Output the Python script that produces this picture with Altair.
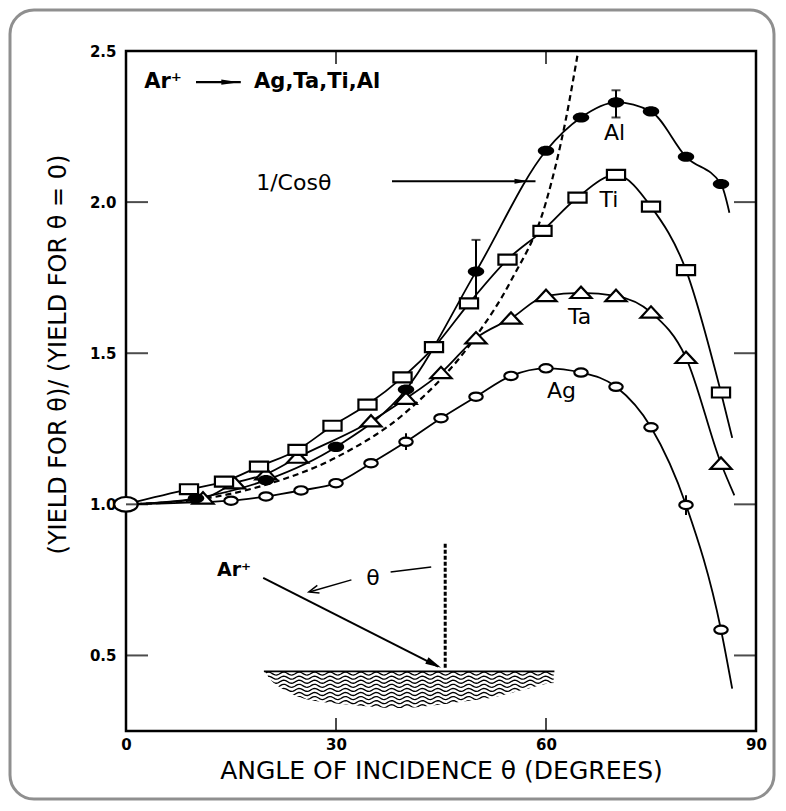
import altair as alt
import numpy as np
import pandas as pd

# ---------------- values ----------------
x_domain = [0, 90]
y_domain = [0.25, 2.5]
x_tick_labels = [0, 30, 60, 90]
y_tick_labels = [0.5, 1.0, 1.5, 2.0, 2.5]
inner_x_ticks = [30, 60]
inner_y_ticks = [0.5, 1.0, 1.5, 2.0]

origin_angle = [0]
origin_yield = [1.0]

al_angle = [10, 20, 30, 40, 50, 60, 65, 70, 75, 80, 85]
al_yield = [1.02, 1.08, 1.19, 1.38, 1.77, 2.17, 2.28, 2.33, 2.30, 2.15, 2.06]
al_tail = [86.2, 1.965]

ti_angle = [9, 14, 19, 24.5, 29.5, 34.5, 39.5, 44, 49, 54.5, 59.5, 64.5, 70, 75, 80, 85]
ti_yield = [1.05, 1.075, 1.125, 1.18, 1.26, 1.33, 1.42, 1.52, 1.665, 1.81, 1.905, 2.015, 2.09, 1.985, 1.775, 1.37]
ti_tail = [86.6, 1.22]

ta_angle = [11, 15.5, 20, 24.5, 35, 40, 45, 50, 55, 60, 65, 70, 75, 80, 85]
ta_yield = [1.02, 1.07, 1.10, 1.155, 1.275, 1.35, 1.435, 1.55, 1.615, 1.69, 1.70, 1.69, 1.635, 1.485, 1.135]
ta_tail = [86.9, 1.03]

ag_angle = [15, 20, 25, 30, 35, 40, 45, 50, 55, 60, 65, 70, 75, 80, 85]
ag_yield = [1.012, 1.026, 1.046, 1.07, 1.136, 1.207, 1.285, 1.356, 1.425, 1.45, 1.436, 1.389, 1.255, 0.998, 0.585]
ag_tail = [86.6, 0.39]

cos_angle = [0, 10, 20, 30, 40, 50, 55, 60, 62.8, 64.6]
cos_value = [1.0, 1.015, 1.065, 1.155, 1.305, 1.556, 1.74, 2.0, 2.27, 2.5]

err_angle = [50, 70, 40, 80]
err_low = [1.68, 2.28, 1.18, 0.965]
err_high = [1.875, 2.37, 1.235, 1.03]
cap_angle = [50, 70, 70]
cap_value = [1.875, 2.37, 2.28]

series_labels = ["Al", "Ti", "Ta", "Ag"]
series_label_x = [69.8, 69.0, 64.8, 62.2]
series_label_y = [2.228, 2.006, 1.62, 1.375]

# annotation: "Ar+ -> Ag,Ta,Ti,Al"
top_text = ["Ar⁺", "Ag,Ta,Ti,Al"]
top_text_x = [2.6, 18.3]
top_text_y = [2.397, 2.397]
top_arrow_x = [10.0, 16.4]
top_arrow_y = 2.397
top_head_x = 14.9

# annotation: "1/Cosθ" with arrow
cos_label = "1/Cosθ"
cos_label_x = 18.6
cos_label_y = 2.063
cos_arrow_x = [38.0, 58.5]
cos_arrow_y = 2.069
cos_head_x = 56.5

# inset diagram
inset_ion_text = "Ar⁺"
inset_ion_x = 13.0
inset_ion_y = 0.783
inset_beam_x = [19.6, 44.6]
inset_beam_y = [0.757, 0.463]
inset_beam_head = [44.0, 0.471]
inset_normal_x = 45.6
inset_normal_y = [0.459, 0.876]
inset_theta_text = "θ"
inset_theta_x = 35.3
inset_theta_y = 0.757
inset_theta_line_x = [37.8, 43.6]
inset_theta_line_y = [0.776, 0.793]
inset_theta_arrow_x = [32.2, 26.3]
inset_theta_arrow_y = [0.750, 0.711]
inset_theta_head = [26.8, 0.7145]
surf_x = [19.7, 20.6, 22.5, 24.4, 28.3, 31.6, 38.7, 48.3, 52.1, 56.9, 61.2]
surf_bottom = [0.447, 0.420, 0.387, 0.365, 0.345, 0.338, 0.326, 0.348, 0.359, 0.387, 0.409]
surf_top = 0.447
surf_mask_floor = 0.31

X_TITLE = "ANGLE OF INCIDENCE θ (DEGREES)"
Y_TITLE = "(YIELD FOR θ)/ (YIELD FOR θ = 0)"
FONT = "DejaVu Sans"

# ---------------- tables ----------------
def curve(name, angles, values, tail):
    return pd.DataFrame({
        "series": name,
        "angle": origin_angle + list(angles) + [tail[0]],
        "value": origin_yield + list(values) + [tail[1]],
    })

curves = pd.concat([
    curve("Al", al_angle, al_yield, al_tail),
    curve("Ti", ti_angle, ti_yield, ti_tail),
    curve("Ta", ta_angle, ta_yield, ta_tail),
    curve("Ag", ag_angle, ag_yield, ag_tail),
], ignore_index=True)

al_df = pd.DataFrame({"angle": al_angle, "value": al_yield})
ti_df = pd.DataFrame({"angle": ti_angle, "value": ti_yield})
ta_df = pd.DataFrame({"angle": ta_angle, "value": ta_yield})
ag_df = pd.DataFrame({"angle": ag_angle, "value": ag_yield})
origin_df = pd.DataFrame({"angle": origin_angle, "value": origin_yield})
cos_df = pd.DataFrame({"angle": cos_angle, "value": cos_value})
err_df = pd.DataFrame({"angle": err_angle, "lo": err_low, "hi": err_high})
cap_df = pd.DataFrame({"angle": cap_angle, "value": cap_value})
lab_df = pd.DataFrame({"t": series_labels, "angle": series_label_x, "value": series_label_y})

# decorative wavy texture of the target surface (drawing, not data)
wave_x = np.arange(surf_x[0], surf_x[-1] + 0.001, 0.2)
wave_rows = []
for i, lvl in enumerate(np.arange(surf_top - 0.007, min(surf_bottom) - 0.004, -0.0135)):
    wave_rows.append(pd.DataFrame({"row": i, "angle": wave_x,
                                   "value": lvl + 0.005 * np.sin(2 * np.pi * wave_x / 2.2)}))
waves_df = pd.concat(wave_rows, ignore_index=True)
mask_df = pd.DataFrame({"angle": [surf_x[0] - 0.6] + surf_x + [surf_x[-1] + 0.6],
                        "value": [surf_top] + surf_bottom + [surf_bottom[-1]],
                        "floor": surf_mask_floor})

# ---------------- scales / axes ----------------
xs = alt.Scale(domain=x_domain, nice=False, zero=False)
ys = alt.Scale(domain=y_domain, nice=False, zero=False)
x_axis = alt.Axis(values=x_tick_labels, format="d", domain=False, ticks=False, grid=False,
                  labelFont=FONT, labelFontSize=15, labelFontWeight="bold", labelColor="black",
                  labelPadding=6, labelFlush=False, labelOverlap=False,
                  titleFont=FONT, titleFontSize=25, titleFontWeight="normal", titleColor="black",
                  titlePadding=6)
y_axis = alt.Axis(values=y_tick_labels, format=".1f", domain=False, ticks=False, grid=False,
                  labelFont=FONT, labelFontSize=15, labelFontWeight="bold", labelColor="black",
                  labelPadding=10, labelFlush=False, labelOverlap=False,
                  titleFont=FONT, titleFontSize=24, titleFontWeight="normal", titleColor="black",
                  titleX=-68, titleY=303, titleAngle=270, titleAlign="center", titleBaseline="middle")


def X(f):
    return alt.X(f"{f}:Q", scale=xs, axis=x_axis, title=X_TITLE)


def Y(f):
    return alt.Y(f"{f}:Q", scale=ys, axis=y_axis, title=Y_TITLE)


one = pd.DataFrame({"k": [0]})

# photo frame
frame = alt.Chart(one).mark_rect(cornerRadius=24, fill="white", fillOpacity=0,
                                 stroke="#8f8f8f", strokeWidth=3).encode(
    x=alt.value(-116), x2=alt.value(648), y=alt.value(-41), y2=alt.value(748))

# inset target surface
waves = alt.Chart(waves_df).mark_line(color="black", strokeWidth=1.3).encode(
    x=X("angle"), y=Y("value"), detail="row:N")
mask = alt.Chart(mask_df).mark_area(color="white", interpolate="monotone").encode(
    x=X("angle"), y=Y("value"), y2="floor:Q")
surf_line = alt.Chart(pd.DataFrame({"a": [surf_x[0]], "b": [surf_x[-1]], "v": [surf_top]})).mark_rule(
    color="black", strokeWidth=1.8).encode(x=X("a"), x2="b:Q", y=Y("v"))

beam = alt.Chart(pd.DataFrame({"a": [inset_beam_x[0]], "b": [inset_beam_x[1]],
                               "v": [inset_beam_y[0]], "w": [inset_beam_y[1]]})).mark_rule(
    color="black", strokeWidth=2).encode(x=X("a"), x2="b:Q", y=Y("v"), y2="w:Q")
beam_head = alt.Chart(pd.DataFrame({"a": [inset_beam_head[0]], "v": [inset_beam_head[1]]})).mark_point(
    shape="M-1,-0.45L1,0L-1,0.45Z", filled=True, color="black", size=256, angle=27, opacity=1).encode(
    x=X("a"), y=Y("v"))
normal = alt.Chart(pd.DataFrame({"a": [inset_normal_x], "v": [inset_normal_y[0]], "w": [inset_normal_y[1]]})).mark_rule(
    color="black", strokeWidth=3, strokeDash=[4, 2]).encode(x=X("a"), y=Y("v"), y2="w:Q")
theta_line = alt.Chart(pd.DataFrame({"a": [inset_theta_line_x[0]], "b": [inset_theta_line_x[1]],
                                     "v": [inset_theta_line_y[0]], "w": [inset_theta_line_y[1]]})).mark_rule(
    color="black", strokeWidth=1.5).encode(x=X("a"), x2="b:Q", y=Y("v"), y2="w:Q")
theta_arrow = alt.Chart(pd.DataFrame({"a": [inset_theta_arrow_x[0]], "b": [inset_theta_arrow_x[1]],
                                      "v": [inset_theta_arrow_y[0]], "w": [inset_theta_arrow_y[1]]})).mark_rule(
    color="black", strokeWidth=1.5).encode(x=X("a"), x2="b:Q", y=Y("v"), y2="w:Q")
theta_head = alt.Chart(pd.DataFrame({"a": [inset_theta_head[0]], "v": [inset_theta_head[1]]})).mark_point(
    shape="M1,-0.8L-1,0L1,0.8", filled=False, color="black", strokeWidth=1.5, size=100, angle=344,
    opacity=1).encode(x=X("a"), y=Y("v"))
inset_texts = alt.Chart(pd.DataFrame({"t": [inset_ion_text], "a": [inset_ion_x], "v": [inset_ion_y]})).mark_text(
    font=FONT, fontSize=19, fontWeight="bold", align="left", baseline="middle", color="black").encode(
    x=X("a"), y=Y("v"), text="t:N")
theta_text = alt.Chart(pd.DataFrame({"t": [inset_theta_text], "a": [inset_theta_x], "v": [inset_theta_y]})).mark_text(
    font=FONT, fontSize=22, align="center", baseline="middle", color="black").encode(
    x=X("a"), y=Y("v"), text="t:N")

# 1/cos reference curve
cos_line = alt.Chart(cos_df).mark_line(color="black", strokeWidth=2.2, strokeDash=[6, 4],
                                       interpolate="monotone").encode(x=X("angle"), y=Y("value"))

# measured curves
lines = alt.Chart(curves).mark_line(color="black", strokeWidth=1.8, interpolate="monotone").encode(
    x=X("angle"), y=Y("value"), detail="series:N")

errs = alt.Chart(err_df).mark_rule(color="black", strokeWidth=2).encode(x=X("angle"), y=Y("lo"), y2="hi:Q")
caps = alt.Chart(cap_df).mark_tick(orient="horizontal", color="black", size=9, thickness=2).encode(
    x=X("angle"), y=Y("value"))

ellipse = "M-1,0A1,0.62,0,1,0,1,0A1,0.62,0,1,0,-1,0Z"
rect = "M-1,-0.55L1,-0.55L1,0.55L-1,0.55Z"
tri = "M-1,0.5L0,-0.58L1,0.5Z"

al_pts = alt.Chart(al_df).mark_point(shape=ellipse, filled=True, color="black", size=270, opacity=1).encode(
    x=X("angle"), y=Y("value"))
ti_pts = alt.Chart(ti_df).mark_point(shape=rect, filled=True, fill="white", stroke="black", strokeWidth=2.2,
                                     size=330, opacity=1).encode(x=X("angle"), y=Y("value"))
ta_pts = alt.Chart(ta_df).mark_point(shape=tri, filled=True, fill="white", stroke="black", strokeWidth=2.2,
                                     size=440, opacity=1).encode(x=X("angle"), y=Y("value"))
ag_pts = alt.Chart(ag_df).mark_point(shape=ellipse, filled=True, fill="white", stroke="black", strokeWidth=2.2,
                                     size=180, opacity=1).encode(x=X("angle"), y=Y("value"))
origin_pt = alt.Chart(origin_df).mark_point(shape=ellipse, filled=True, fill="white", stroke="black",
                                            strokeWidth=2.2, size=560, opacity=1).encode(x=X("angle"), y=Y("value"))

# inward ticks on all four sides
bt = pd.DataFrame({"a": inner_x_ticks, "v": y_domain[0]})
tt = pd.DataFrame({"a": inner_x_ticks, "v": y_domain[1]})
lt = pd.DataFrame({"a": x_domain[0], "v": inner_y_ticks})
rt = pd.DataFrame({"a": x_domain[1], "v": inner_y_ticks})
bottom_ticks = alt.Chart(bt).mark_tick(orient="vertical", size=13, thickness=2, color="black", yOffset=-6.5).encode(
    x=X("a"), y=Y("v"))
top_ticks = alt.Chart(tt).mark_tick(orient="vertical", size=13, thickness=2, color="black", yOffset=6.5).encode(
    x=X("a"), y=Y("v"))
left_ticks = alt.Chart(lt).mark_tick(orient="horizontal", size=22, thickness=2, color="black", xOffset=11).encode(
    x=X("a"), y=Y("v"))
right_ticks = alt.Chart(rt).mark_tick(orient="horizontal", size=22, thickness=2, color="black", xOffset=-11).encode(
    x=X("a"), y=Y("v"))

# labels
series_text = alt.Chart(lab_df).mark_text(font=FONT, fontSize=22, align="center", baseline="middle",
                                          color="black").encode(x=X("angle"), y=Y("value"), text="t:N")
top_label = alt.Chart(pd.DataFrame({"t": top_text, "a": top_text_x, "v": top_text_y})).mark_text(
    font=FONT, fontSize=21, fontWeight="bold", align="left", baseline="middle", color="black").encode(
    x=X("a"), y=Y("v"), text="t:N")
top_arrow = alt.Chart(pd.DataFrame({"a": [top_arrow_x[0]], "b": [top_arrow_x[1]], "v": [top_arrow_y]})).mark_rule(
    color="black", strokeWidth=2.2).encode(x=X("a"), x2="b:Q", y=Y("v"))
top_head = alt.Chart(pd.DataFrame({"a": [top_head_x], "v": [top_arrow_y]})).mark_point(
    shape="M-1,-0.3L1,0L-1,0.3Z", filled=True, color="black", size=324, opacity=1).encode(x=X("a"), y=Y("v"))
cos_text = alt.Chart(pd.DataFrame({"t": [cos_label], "a": [cos_label_x], "v": [cos_label_y]})).mark_text(
    font=FONT, fontSize=22, align="left", baseline="middle", color="black").encode(
    x=X("a"), y=Y("v"), text="t:N")
cos_arrow = alt.Chart(pd.DataFrame({"a": [cos_arrow_x[0]], "b": [cos_arrow_x[1]], "v": [cos_arrow_y]})).mark_rule(
    color="black", strokeWidth=1.8).encode(x=X("a"), x2="b:Q", y=Y("v"))
cos_head = alt.Chart(pd.DataFrame({"a": [cos_head_x], "v": [cos_arrow_y]})).mark_point(
    shape="M-1,-0.35L1,0L-1,0.35Z", filled=True, color="black", size=196, opacity=1).encode(x=X("a"), y=Y("v"))

chart = alt.layer(
    frame, waves, mask, surf_line, normal, beam, beam_head, theta_line, theta_arrow, theta_head,
    inset_texts, theta_text, cos_line, lines, errs, caps,
    ag_pts, ta_pts, ti_pts, al_pts, origin_pt,
    bottom_ticks, top_ticks, left_ticks, right_ticks,
    series_text, top_label, top_arrow, top_head, cos_text, cos_arrow, cos_head,
).properties(
    width=630, height=680,
    padding={"left": 118, "top": 43, "right": 22, "bottom": 72},
    autosize=alt.AutoSizeParams(type="none"),
    background="white",
).configure_view(stroke="black", strokeWidth=2.5)

chart.save("out.html", embed_options={"renderer": "svg", "actions": False})
